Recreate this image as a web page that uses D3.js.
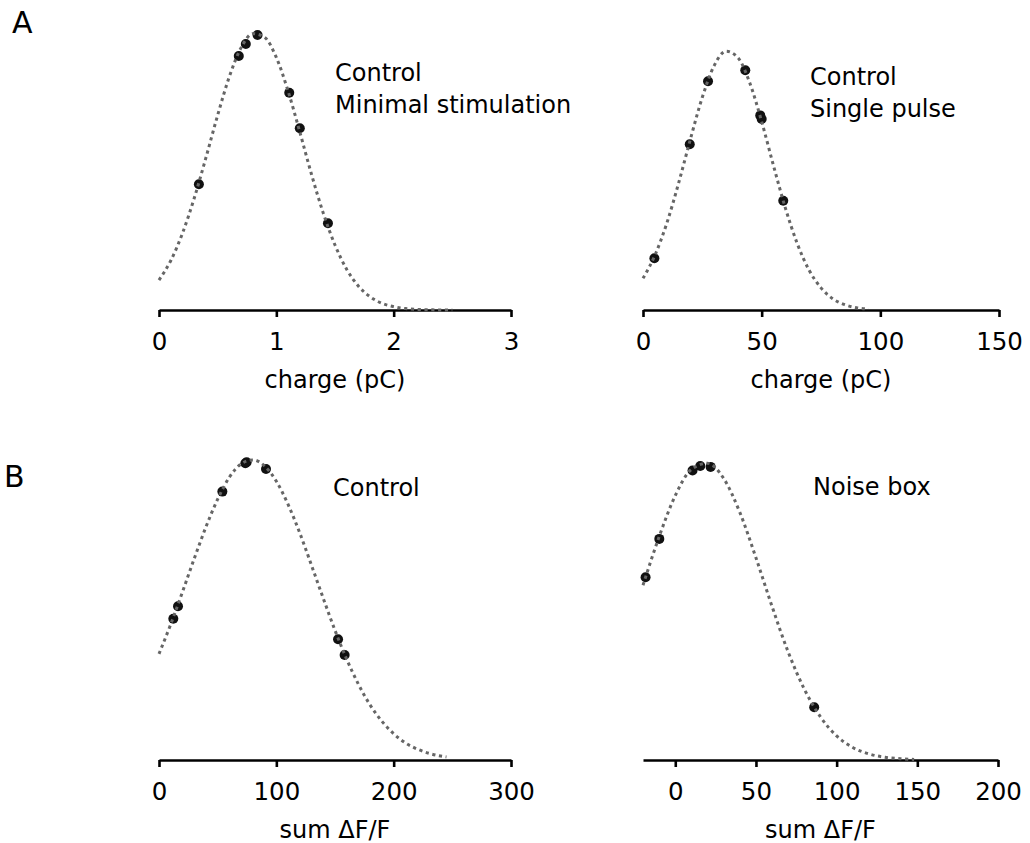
<!DOCTYPE html>
<html><head><meta charset="utf-8">
<script src="https://cdn.jsdelivr.net/npm/d3@7"></script>
<style>body{margin:0;background:#fff}</style>
</head><body><svg id="c" width="1030" height="843"></svg>
<script>
// ---- Panel A left: Control, Minimal stimulation ----
const aLeftDotX = [0.34, 0.68, 0.74, 0.84, 1.11, 1.20, 1.44];
const aLeftDotY = [44.9, 90.7, 95.0, 98.2, 77.6, 64.9, 31.0];
const aLeftFitX = [0,0.1,0.2,0.3,0.4,0.5,0.6,0.7,0.8,0.9,1.0,1.1,1.2,1.3,1.4,1.5,1.6,1.7,1.8,1.9,2.0,2.1,2.2,2.3,2.4,2.5];
const aLeftFitY = [10.7,17.6,27.4,39.9,54.4,69.6,83.4,93.7,98.7,97.4,90.2,78.2,63.6,48.4,34.6,23.2,14.5,8.5,4.7,2.4,1.2,0.5,0.2,0.1,0.0,0.0];
const aLeftTicks = [0, 1, 2, 3];
const aLeftLabels = ["Control", "Minimal stimulation"];

// ---- Panel A right: Control, Single pulse ----
const aRightDotX = [4.8, 19.7, 27.4, 43.1, 49.4, 50.0, 59.1];
const aRightDotY = [18.5, 59.2, 81.7, 85.6, 69.5, 68.2, 39.0];
const aRightFitX = [0,5,10,15,20,25,30,35,40,45,50,55,60,65,70,75,80,85,90,95];
const aRightFitY = [11.3,19.5,30.9,45.3,61.1,76.0,87.3,92.4,90.1,81.1,67.3,51.5,36.4,23.7,14.2,7.9,4.0,1.9,0.8,0.3];
const aRightTicks = [0, 50, 100, 150];
const aRightLabels = ["Control", "Single pulse"];

// ---- Panel B left: Control ----
const bLeftDotX = [12.2, 16.2, 54.0, 73.6, 74.7, 91.2, 152.6, 158.2];
const bLeftDotY = [46.3, 50.4, 88.0, 97.3, 97.6, 95.4, 39.6, 34.4];
const bLeftFitX = [0,10,20,30,40,50,60,70,80,90,100,110,120,130,140,150,160,170,180,190,200,210,220,230,240,245];
const bLeftFitY = [34.8,44.5,55.1,66.0,76.4,85.5,92.7,97.1,98.4,96.4,91.4,83.8,74.4,63.8,53.0,42.5,33.0,24.8,18.0,12.7,8.6,5.6,3.6,2.2,1.3,1.0];
const bLeftTicks = [0, 100, 200, 300];
const bLeftLabels = ["Control"];

// ---- Panel B right: Noise box ----
const bRightDotX = [-18.4, -9.9, 10.7, 15.5, 21.9, 86.1];
const bRightDotY = [59.9, 72.5, 94.9, 96.4, 96.1, 17.3];
const bRightFitX = [-20,-10,0,10,20,30,40,50,60,70,80,90,100,110,120,130,140,148];
const bRightFitY = [57.3,73.2,86.7,95.3,97.3,92.3,81.2,66.3,50.3,35.4,23.2,14.1,7.9,4.1,2.0,0.9,0.4,0.2];
const bRightTicks = [0, 50, 100, 150, 200];
const bRightLabels = ["Noise box"];

const xTitleA = "charge (pC)";
const xTitleB = "sum \u0394F/F";
const panelLetters = ["A", "B"];

const FONT = "DejaVu Sans";
const svg = d3.select("#c");

const rowA = d3.scaleLinear().domain([0, 100]).range([310, 30]);
const rowB = d3.scaleLinear().domain([0, 100]).range([760, 455]);

const panels = [
  {dx: aLeftDotX, dy: aLeftDotY, fx: aLeftFitX, fy: aLeftFitY, ticks: aLeftTicks, labels: aLeftLabels,
   dom: [0, 3], rng: [159, 511], y: rowA, title: xTitleA, lx: 335, ly: 81},
  {dx: aRightDotX, dy: aRightDotY, fx: aRightFitX, fy: aRightFitY, ticks: aRightTicks, labels: aRightLabels,
   dom: [0, 150], rng: [643, 999], y: rowA, title: xTitleA, lx: 810, ly: 85},
  {dx: bLeftDotX, dy: bLeftDotY, fx: bLeftFitX, fy: bLeftFitY, ticks: bLeftTicks, labels: bLeftLabels,
   dom: [0, 300], rng: [159, 511], y: rowB, title: xTitleB, lx: 333, ly: 496},
  {dx: bRightDotX, dy: bRightDotY, fx: bRightFitX, fy: bRightFitY, ticks: bRightTicks, labels: bRightLabels,
   dom: [-20, 200], rng: [643, 998], y: rowB, title: xTitleB, lx: 813, ly: 495}
];

panels.forEach(p => {
  const x = d3.scaleLinear().domain(p.dom).range(p.rng);
  const y = p.y;
  const y0 = y(0);
  const g = svg.append("g");

  const ax = g.append("g")
    .attr("transform", `translate(0,${y0})`)
    .call(d3.axisBottom(x).tickValues(p.ticks).tickSize(7).tickSizeOuter(0).tickPadding(16).tickFormat(d3.format("d")));
  ax.select(".domain").attr("stroke", "#000").attr("stroke-width", 2.6);
  ax.selectAll(".tick line").attr("stroke", "#000").attr("stroke-width", 2.6);
  ax.selectAll(".tick text").attr("font-family", FONT).attr("font-size", 24.5).attr("fill", "#000");

  g.append("text")
    .attr("x", (p.rng[0] + p.rng[1]) / 2)
    .attr("y", y0 + 78)
    .attr("text-anchor", "middle")
    .attr("font-family", FONT).attr("font-size", 24).attr("fill", "#000")
    .text(p.title);

  const dots = p.dx.map((v, i) => ({x: v, y: p.dy[i]}));
  g.selectAll("circle.dot").data(dots).join("circle")
    .attr("class", "dot")
    .attr("cx", d => x(d.x)).attr("cy", d => y(d.y)).attr("r", 5)
    .attr("fill", "#111");

  const fit = p.fx.map((v, i) => ({x: v, y: p.fy[i]}));
  g.append("path")
    .datum(fit)
    .attr("fill", "none")
    .attr("stroke", "#666")
    .attr("stroke-width", 3)
    .attr("stroke-dasharray", "3.2,3.6")
    .attr("d", d3.line().x(d => x(d.x)).y(d => y(d.y)).curve(d3.curveMonotoneX));

  const t = g.append("text")
    .attr("font-family", FONT).attr("font-size", 24).attr("fill", "#000");
  p.labels.forEach((s, i) => {
    t.append("tspan").attr("x", p.lx).attr("y", p.ly + i * 32).text(s);
  });
});

svg.append("text").attr("x", 12).attr("y", 33)
  .attr("font-family", FONT).attr("font-size", 30).attr("fill", "#000").text(panelLetters[0]);
svg.append("text").attr("x", 4).attr("y", 487)
  .attr("font-family", FONT).attr("font-size", 30).attr("fill", "#000").text(panelLetters[1]);
</script>
</body></html>
